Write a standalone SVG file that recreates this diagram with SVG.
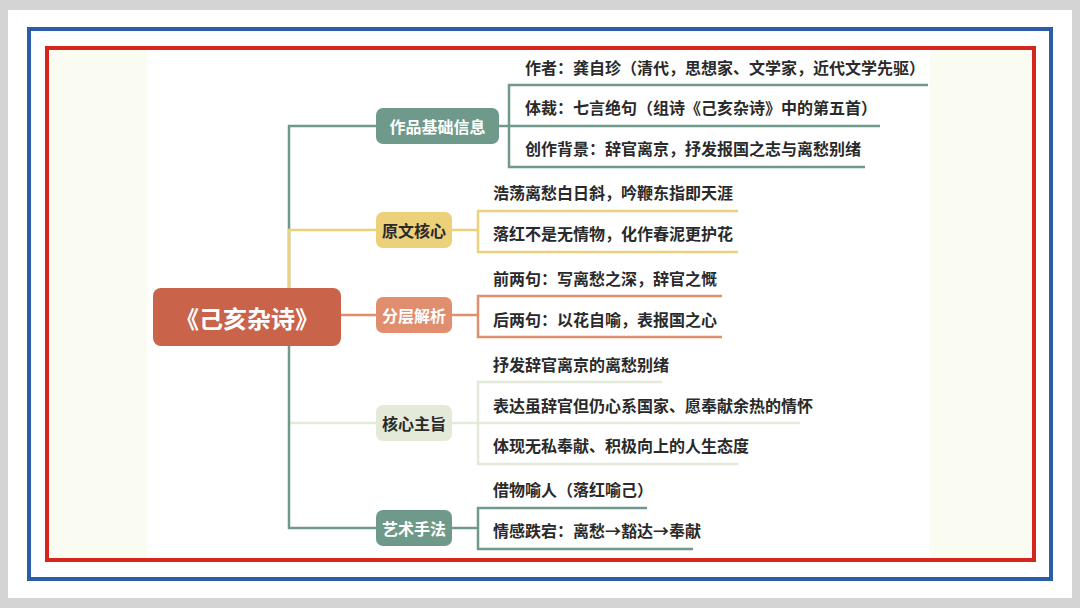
<svg xmlns="http://www.w3.org/2000/svg" width="1080" height="608" viewBox="0 0 1080 608">
<style>
text{font-family:"Noto Sans CJK SC","Noto Sans",sans-serif;font-weight:bold}
.leaf{font-size:16px;fill:#2a2a2a}
.bt{font-size:16px;text-anchor:middle;dominant-baseline:central}
.c{fill:none;stroke-width:2.5}
</style>
<rect width="1080" height="608" fill="#d4d4d4"/>
<rect x="8" y="10" width="1064" height="588" fill="#fff"/>
<rect x="29" y="29" width="1022" height="550" fill="none" stroke="#2a5fa8" stroke-width="4"/>
<rect x="47" y="48" width="987" height="512" fill="#fbfcf1" stroke="#d6241f" stroke-width="4"/>
<rect x="147" y="50" width="783" height="508" fill="#fff"/>
<g id="connectors">
<path class="c" stroke="#6f9a8b" d="M289,288 V126 H376"/>
<path class="c" stroke="#ecd07a" d="M289,288 V230 H376"/>
<path class="c" stroke="#e08e6e" d="M341,315 H376"/>
<path class="c" stroke="#e3ead9" d="M289,423 H376"/>
<path class="c" stroke="#6f9a8b" d="M289,346 V528 H376"/>
<path class="c" stroke="#6f9a8b" stroke-width="2" d="M499,126 H509 M928,85 H509 V167 H865 M509,126 H880"/>
<path class="c" stroke="#ecd07a" stroke-width="2" d="M452,230 H478 M738,211 H478 V252 H738"/>
<path class="c" stroke="#e08e6e" stroke-width="2" d="M452,315 H478 M722,296 H478 V337 H722"/>
<path class="c" stroke="#e3ead9" stroke-width="2" d="M452,423 H478 M662,382 H478 V464 H738 M478,423 H800"/>
<path class="c" stroke="#6f9a8b" stroke-width="2" d="M452,528 H478 M647,508 H478 V549 H693"/>
</g>
<g id="root"><rect x="153" y="288" width="188" height="58" rx="8" fill="#c9634a"/><text x="247" y="317" class="bt" style="font-size:24px" fill="#fff">《己亥杂诗》</text></g>
<g id="n1"><rect x="376" y="108" width="123" height="36" rx="7" fill="#6f9a8b"/><text x="437.5" y="126" class="bt" fill="#fff">作品基础信息</text></g>
<g id="n2"><rect x="376" y="212" width="76" height="36" rx="7" fill="#ecd07a"/><text x="414" y="230" class="bt" fill="#2a2a2a">原文核心</text></g>
<g id="n3"><rect x="376" y="297" width="76" height="36" rx="7" fill="#e08e6e"/><text x="414" y="315" class="bt" fill="#fff">分层解析</text></g>
<g id="n4"><rect x="376" y="405" width="76" height="36" rx="7" fill="#e3ead9"/><text x="414" y="423" class="bt" fill="#2a2a2a">核心主旨</text></g>
<g id="n5"><rect x="376" y="510" width="76" height="36" rx="7" fill="#6f9a8b"/><text x="414" y="528" class="bt" fill="#fff">艺术手法</text></g>
<g id="leaves">
<text class="leaf" x="525" y="74">作者：龚自珍（清代，思想家、文学家，近代文学先驱）</text>
<text class="leaf" x="525" y="114">体裁：七言绝句（组诗《己亥杂诗》中的第五首）</text>
<text class="leaf" x="525" y="155">创作背景：辞官离京，抒发报国之志与离愁别绪</text>
<text class="leaf" x="493" y="199">浩荡离愁白日斜，吟鞭东指即天涯</text>
<text class="leaf" x="493" y="240">落红不是无情物，化作春泥更护花</text>
<text class="leaf" x="493" y="285">前两句：写离愁之深，辞官之慨</text>
<text class="leaf" x="493" y="326">后两句：以花自喻，表报国之心</text>
<text class="leaf" x="493" y="371">抒发辞官离京的离愁别绪</text>
<text class="leaf" x="493" y="412">表达虽辞官但仍心系国家、愿奉献余热的情怀</text>
<text class="leaf" x="493" y="452">体现无私奉献、积极向上的人生态度</text>
<text class="leaf" x="493" y="496">借物喻人（落红喻己）</text>
<text class="leaf" x="493" y="537">情感跌宕：离愁→豁达→奉献</text>
</g>
</svg>
